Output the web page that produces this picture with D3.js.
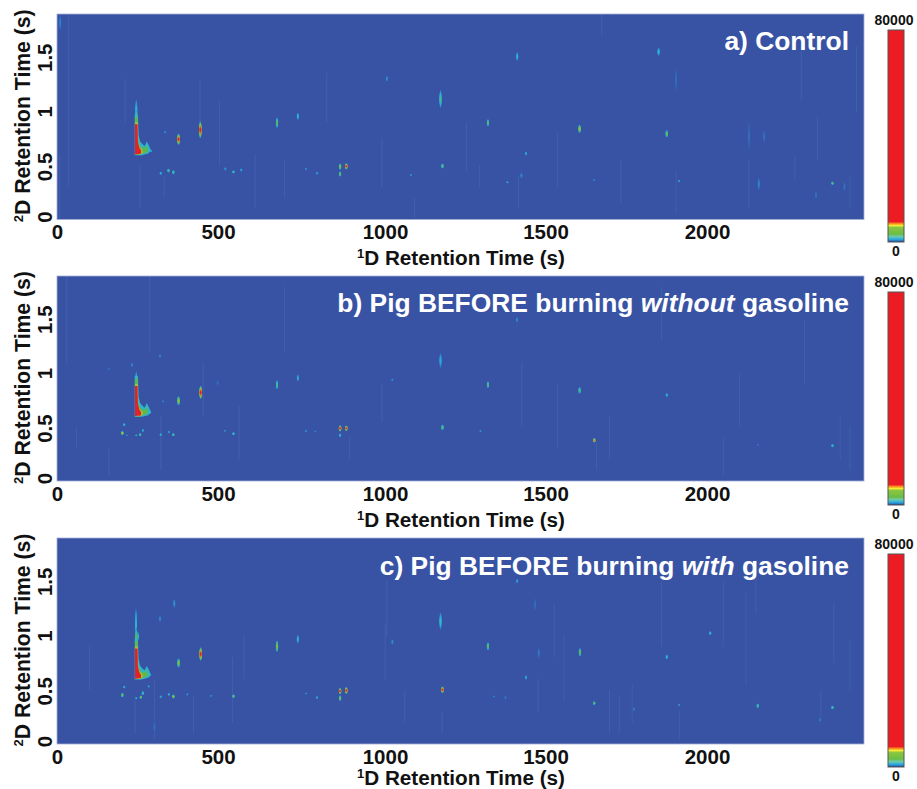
<!DOCTYPE html>
<html><head><meta charset="utf-8">
<script src="https://cdn.jsdelivr.net/npm/d3@7"></script>
<style>html,body{margin:0;padding:0;background:#fff;overflow:hidden}svg{display:block}text{font-family:"Liberation Sans",Arial,sans-serif;font-weight:700}</style>
</head><body><svg id="c" width="917" height="789"></svg>
<script>
// ---------- values ----------
const xTicks = [0, 500, 1000, 1500, 2000];
const yTicks = [0, 0.5, 1, 1.5];
const panelNames = ["a", "b", "c"];
const barTopLabel = "80000", barBottomLabel = "0";
const xTitle = "D Retention Time (s)";
const yTitle = "D Retention Time (s)";
// colour ramp: intensity counts → colour (saturates well below the 80000 top)
const rampCounts = [0, 700, 1900, 3300, 5000, 6000, 7000];
const rampColours = ["#3953a4", "#2f86c6", "#2bb5d8", "#5fb84a", "#a3bf3c", "#d9802a", "#e0222a"];
const barCounts = [0, 350, 1000, 2000, 3000, 5500, 6200, 6900, 7700, 80000];
const barColours = ["#2e3192", "#2a6db5", "#27aae1", "#6ccbb0", "#6abd45", "#8dc63f", "#f9ed32", "#f7941d", "#ed1c24", "#ed1c24"];
// peaks: [1D time s, 2D time s, half length in 2D s, apex counts]
const peaksA = [[374,.742,.05,7000],[441,.829,.075,7000],[677,.894,.046,3200],[741,.955,.032,2000],[871,.489,.028,4000],[871,.421,.023,3600],[890,.492,.028,7000],[1180,1.113,.083,2600],[1186,.495,.023,3200],[319,.427,.014,2000],[343,.452,.018,2800],[358,.437,.018,2800],[543,.44,.014,2400],[567,.458,.014,1450],[518,.468,.014,1200],[800,.427,.011,1600],[766,.468,.009,960],[1015,1.301,.028,960],[1089,.412,.009,960],[10,1.82,.074,640],[333,.807,.014,800],[290,.634,.009,1200],[1416,1.508,.037,2000],[1851,1.551,.037,2000],[1326,.894,.032,3200],[1608,.838,.037,4600],[1876,.792,.032,3600],[1443,.61,.018,1600],[1386,.344,.009,1600],[1429,.406,.028,800],[1914,.356,.009,1600],[1653,.366,.009,800],[2386,.335,.014,3200],[2159,.329,.056,800],[2176,.767,.056,480],[2129,.767,.139,400],[1905,1.292,.111,400],[2335,.227,.037,480],[2423,.304,.046,480],[1707,1.93,.05,400]];
const peaksB = [[374,.744,.04,4400],[442,.821,.06,7000],[677,.892,.04,2800],[741,.954,.03,1760],[871,.488,.028,7000],[871,.423,.018,2000],[890,.488,.025,7000],[1180,1.117,.07,1600],[1186,.497,.025,3200],[1032,.938,.012,960],[201,.444,.018,5000],[207,.522,.014,2000],[244,.423,.009,1600],[256,.429,.014,2800],[264,.469,.014,1600],[215,.423,.009,800],[319,.429,.014,1760],[344,.454,.009,1600],[358,.429,.014,2800],[543,.438,.014,2400],[516,.466,.009,960],[766,.463,.009,960],[795,.46,.007,800],[317,1.16,.014,800],[327,.738,.014,640],[231,1.077,.02,800],[159,1.037,.009,560],[494,.907,.03,400],[1416,1.494,.025,960],[1326,.892,.03,3000],[1608,.84,.03,3000],[1876,.796,.018,2000],[1303,.463,.012,960],[1653,.377,.02,6200],[2386,.327,.014,2400],[2156,.336,.006,640]];
const peaksC = [[374,.747,.04,4200],[442,.83,.06,7000],[677,.901,.05,4000],[741,.966,.037,2000],[871,.488,.028,7000],[871,.423,.025,3800],[890,.494,.03,7000],[1180,1.133,.08,2240],[1186,.5,.03,7000],[1032,.941,.025,960],[201,.451,.02,3600],[207,.525,.012,1760],[244,.423,.01,1600],[258,.432,.014,3600],[264,.469,.018,2400],[282,.531,.01,1440],[319,.435,.012,1600],[344,.457,.012,1760],[358,.438,.018,4400],[401,.457,.009,1200],[474,.444,.008,960],[543,.441,.016,3400],[766,.466,.008,1120],[800,.429,.012,1760],[361,1.296,.04,960],[317,1.154,.03,800],[249,.994,.04,2000],[300,.16,.06,400],[1416,1.503,.02,1440],[1471,1.287,.06,400],[1326,.901,.035,3400],[1609,.846,.037,3400],[1876,.802,.022,2000],[2010,1.022,.018,2000],[1443,.614,.02,1600],[1482,.84,.05,560],[1653,.377,.016,3200],[2156,.352,.02,2800],[2386,.336,.016,2800],[1914,.361,.009,1200],[1775,.321,.02,560],[1345,.438,.009,800],[1380,.429,.02,560],[2348,.222,.018,640]];
// the large peak near 1D 245 s: tail [1D, 2D, half length, counts]
const tailA = [[244,1.0,.11,2000],[244,.95,.06,3400]];
const tailB = [[244,.93,.085,2200],[244,.9,.05,3600]];
const tailC = [[243,1.09,.16,2000],[244,.98,.09,3400]];
// foot contours of that peak, outer to inner: [1D, 2D]
const footCyan = [[239,.595],[239,.97],[249,.97],[251,.78],[256,.72],[265,.69],[270,.68],[276,.72],[280,.70],[290,.635],[280,.61],[260,.595]];
const footGreen = [[240,.6],[240,.95],[248,.95],[250,.72],[255,.68],[265,.66],[271,.66],[276,.69],[279,.65],[279,.625],[265,.61],[255,.6]];
const footYellow = [[240,.6],[240,.9],[249,.9],[250,.72],[254,.67],[264,.64],[264,.615],[256,.6]];
const footRed = [[240,.602],[240,.88],[248,.88],[249,.72],[253,.665],[259,.635],[258,.608]];
const footLevels = [2000, 3300, 5000, 7000];
// faint vertical streaks: [1D, 2D low, 2D high]
const streaksA = [[36,.3,1.9],[8,0,.6],[210,.9,1.3],[255,.1,.5],[330,.2,.4],[440,.75,1.3],[500,.5,1.1],[610,.1,.6],[830,.9,1.36],[1000,.3,.75],[1260,.45,.9],[1300,.3,.5],[1420,.1,.4],[1540,.3,.8],[1676,1.7,1.9],[1735,.15,.55],[1905,.05,.45],[2129,.1,.55],[2270,.35,.6],[2290,1.1,1.6],[2340,.55,.95],[2440,.1,.4],[2460,1,1.6],[1100,.02,.2],[700,.2,.55]];
const streaksB = [[30,1.1,1.9],[60,.3,.5],[160,.05,.3],[285,1.2,1.9],[320,.1,.6],[450,.6,1.1],[560,.2,.7],[700,1.2,1.8],[1000,.55,.9],[1540,.3,.9],[1660,.1,.35],[1700,.2,.6],[1860,1.3,1.8],[2050,.05,.4],[2100,.5,1],[2300,.9,1.5],[2440,.1,.5],[2410,.2,.6],[1430,.5,1.1],[900,.2,.4]];
const streaksC = [[100,.5,.9],[240,.1,.4],[300,.05,.6],[420,.1,.45],[540,.2,.8],[575,.6,1],[1015,1,1.5],[1070,.2,.5],[1480,.3,.6],[1530,.8,1.3],[1560,.4,1],[1700,.1,.5],[1730,.1,.45],[1770,.2,.55],[1860,.9,1.5],[1915,.05,.3],[2050,.9,1.5],[2120,.55,1.4],[2150,1.2,1.7],[2350,.2,.5],[2390,.75,1.3],[2440,.5,.95],[1010,.6,1.1],[1185,.1,.3]];
const titlesA = [["a) Control", false]];
const titlesB = [["b) Pig BEFORE burning ", false], ["without", true], [" gasoline", false]];
const titlesC = [["c) Pig BEFORE burning ", false], ["with", true], [" gasoline", false]];

// ---------- layout ----------
const panelLeft = 57, panelRight = 864, xMax = 2483, yMax = 1.9;
const panelTops = [14, 276, 538], panelBottoms = [219.5, 481, 744];
const barTops = [30, 292, 554], barBottoms = [242, 505, 767];
const titleBaselines = [50, 312, 575];
const xTitleBaselines = [265, 527, 785];
const xTickNudge = [0, -1.5, 3, 1, 0];
const allPeaks = [peaksA, peaksB, peaksC], allTails = [tailA, tailB, tailC];
const allStreaks = [streaksA, streaksB, streaksC], allTitles = [titlesA, titlesB, titlesC];

const svg = d3.select("#c");
const defs = svg.append("defs");
defs.append("filter").attr("id", "soft").attr("x", "-5%").attr("y", "-5%").attr("width", "110%").attr("height", "110%")
  .append("feGaussianBlur").attr("stdDeviation", 0.55);

const colour = d3.scaleLinear().domain(rampCounts).range(rampColours).clamp(true);
const barColour = d3.scaleLinear().domain(barCounts).range(barColours);
const profile = [0.18, 0.35, 0.5, 0.65, 0.8, 0.92, 1];

panelNames.forEach((name, i) => {
  const x = d3.scaleLinear().domain([0, xMax]).range([panelLeft, panelRight]);
  const y = d3.scaleLinear().domain([0, yMax]).range([panelBottoms[i], panelTops[i]]);
  const g = svg.append("g").attr("class", "panel-" + name);
  defs.append("clipPath").attr("id", "clip" + name).append("rect")
    .attr("x", panelLeft).attr("y", panelTops[i]).attr("width", panelRight - panelLeft).attr("height", panelBottoms[i] - panelTops[i]);

  g.append("rect").attr("x", panelLeft).attr("y", panelTops[i]).attr("width", panelRight - panelLeft)
    .attr("height", panelBottoms[i] - panelTops[i]).attr("fill", "#3953a4");
  const plot = g.append("g").attr("clip-path", `url(#clip${name})`).append("g").attr("filter", "url(#soft)");

  plot.selectAll("line.s").data(allStreaks[i]).join("line").attr("class", "s")
    .attr("x1", d => x(d[0])).attr("x2", d => x(d[0])).attr("y1", d => y(d[1])).attr("y2", d => y(d[2]))
    .attr("stroke", "#4f74b8").attr("stroke-width", 1).attr("stroke-opacity", 0.35);

  const drawPeaks = rows => rows.forEach(p => {
    const [t1, t2, half, counts] = p;
    profile.forEach(f => {
      const reach = half * 1.1 * Math.pow(Math.max(0.02, 1 - f), 0.38);
      plot.append("ellipse").attr("cx", x(t1)).attr("cy", y(t2))
        .attr("rx", 0.6 + 0.4 * (1 - f) + Math.min(0.35, counts / 16000))
        .attr("ry", Math.max(0.6, y(0) - y(reach)))
        .attr("fill", colour(counts * f));
    });
  });
  drawPeaks(allPeaks[i]);
  drawPeaks(allTails[i]);

  const outline = d3.line().x(d => x(d[0])).y(d => y(d[1])).curve(d3.curveLinearClosed);
  [footCyan, footGreen, footYellow, footRed].forEach((ring, k) => {
    plot.append("path").attr("d", outline(ring)).attr("fill", colour(footLevels[k]));
  });

  g.append("rect").attr("x", panelLeft).attr("y", panelTops[i]).attr("width", panelRight - panelLeft)
    .attr("height", panelBottoms[i] - panelTops[i]).attr("fill", "none").attr("stroke", "#a4aed6").attr("stroke-width", 0.8);

  // axes
  const ax = g.append("g").attr("transform", `translate(0,${panelBottoms[i]})`)
    .call(d3.axisBottom(x).tickValues(xTicks).tickSize(0).tickPadding(3).tickFormat(d3.format("d")));
  ax.select(".domain").remove();
  ax.selectAll("text").attr("font-size", 20.5).attr("fill", "#111").attr("dy", "0.82em").attr("dx", (d, k) => xTickNudge[k]);

  const ay = g.append("g").attr("transform", `translate(${panelLeft},0)`)
    .call(d3.axisLeft(y).tickValues(yTicks).tickSize(0).tickFormat(d => String(d)));
  ay.select(".domain").remove();
  ay.selectAll("text").attr("font-size", 20.5).attr("fill", "#111").attr("text-anchor", "middle")
    .attr("dy", 0).attr("x", 0)
    .attr("transform", d => `translate(-5.5,${d === 0 ? -3 : d === 0.5 ? 1 : 0}) rotate(-90)`);

  const xt = g.append("text").attr("x", 461).attr("y", xTitleBaselines[i]).attr("text-anchor", "middle").attr("font-size", 20.7).attr("fill", "#111");
  xt.append("tspan").attr("font-size", 13).attr("dy", -7).text("1");
  xt.append("tspan").attr("dy", 7).text(xTitle);
  const yt = g.append("text").attr("transform", `translate(30,${(panelTops[i] + panelBottoms[i]) / 2 - 1}) rotate(-90)`)
    .attr("text-anchor", "middle").attr("font-size", 21.2).attr("fill", "#111");
  yt.append("tspan").attr("font-size", 13).attr("dy", -7).text("2");
  yt.append("tspan").attr("dy", 7).text(yTitle);

  const title = g.append("text").attr("x", 849).attr("y", titleBaselines[i]).attr("text-anchor", "end")
    .attr("font-size", 26.4).attr("fill", "#fff");
  allTitles[i].forEach(t => title.append("tspan").attr("font-style", t[1] ? "italic" : "normal").style("white-space", "pre").text(t[0]));

  // colour bar
  const barId = "bar" + name;
  const barY = d3.scaleLinear().domain([0, 80000]).range([barBottoms[i], barTops[i]]);
  const grad = defs.append("linearGradient").attr("id", barId).attr("x1", 0).attr("x2", 0).attr("y1", 1).attr("y2", 0);
  barCounts.forEach(v => grad.append("stop").attr("offset", v / 80000).attr("stop-color", barColour(v)));
  g.append("rect").attr("x", 888).attr("y", barTops[i]).attr("width", 16).attr("height", barBottoms[i] - barTops[i])
    .attr("fill", `url(#${barId})`).attr("stroke", "#555").attr("stroke-width", 1);
  g.append("text").attr("x", 894).attr("y", barY(80000) - 5).attr("text-anchor", "middle").attr("font-size", 14).attr("fill", "#111").text(barTopLabel);
  g.append("text").attr("x", 896).attr("y", barY(0) + 14).attr("text-anchor", "middle").attr("font-size", 14).attr("fill", "#111").text(barBottomLabel);
});
</script></body></html>
